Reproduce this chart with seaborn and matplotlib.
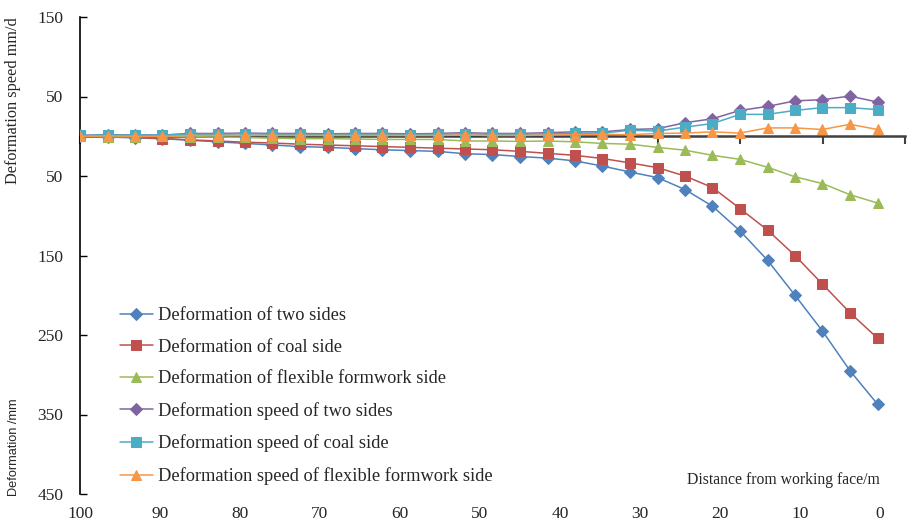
import matplotlib
matplotlib.use('Agg')
import matplotlib.pyplot as plt
import seaborn as sns
import numpy as np

# distance from working face (m) of each measuring point
distance = [100.00, 96.56, 93.13, 89.69, 86.25, 82.81, 79.38, 75.94, 72.50, 69.06,
            65.63, 62.19, 58.75, 55.31, 51.88, 48.44, 45.00, 41.56, 38.13, 34.69,
            31.25, 27.81, 24.38, 20.94, 17.50, 14.06, 10.63, 7.19, 3.75, 0.31]

# deformation (mm), plotted downward
def_two = [0, 1, 2, 3, 5, 7, 9, 11, 13, 14, 15.5, 17, 18, 19, 22, 23, 25.5, 27.5, 31, 37.5,
           45, 52, 67, 88, 119, 156, 200, 245, 295, 337]
def_coal = [0, 0.5, 1.5, 3, 4.5, 6, 7.5, 8.5, 10, 11, 12, 13, 14, 15, 16, 17, 19, 21.5, 24, 28,
            33.5, 39.5, 50, 64.5, 91, 118, 150, 186, 222, 254]
def_flex = [0, 0.5, 0.5, 0, 0.5, 1, 1.5, 2.5, 3, 3, 3.5, 4, 4, 4, 6, 6, 6.5, 6, 7, 9,
            10, 14, 17.5, 24, 29, 39, 51, 59.5, 73.5, 84]

# deformation speed (mm/d), plotted upward (negative)
spd_two = [-1, -2, -1.5, -1.5, -3.5, -3.5, -4, -3.5, -3.5, -3, -3.5, -3.5, -3, -3.5, -4.5, -3.5,
           -3.5, -4.5, -5.5, -5.5, -8.5, -9.5, -17, -22, -32.5, -37.5, -44.5, -46, -50.5, -43]
spd_coal = [-1, -1.5, -1.5, -1.5, -2.5, -2.5, -3, -2.5, -2.5, -2, -2.5, -2.5, -2, -2.5, -3, -2.5,
            -2.5, -3, -3.5, -4, -7.5, -6.5, -11.5, -16, -27.5, -27.5, -32.5, -36, -36, -33.5]
spd_flex = [0, -0.5, 0, 0, -1, -1, -1, -1, -1, -1, -1, -1, -1, -1, -1.5, -1, -1, -1.5, -2, -2.5,
            -2, -3.5, -4, -5.5, -4, -10.5, -10.5, -8.5, -15, -8.5]

labels = ['Deformation of two sides', 'Deformation of coal side',
          'Deformation of flexible formwork side', 'Deformation speed of two sides',
          'Deformation speed of coal side', 'Deformation speed of flexible formwork side']
series = [def_two, def_coal, def_flex, spd_two, spd_coal, spd_flex]
colors = ['#4F81BD', '#C0504D', '#9BBB59', '#8064A2', '#4BACC6', '#F79646']
markers = ['D', 's', '^', 'D', 's', '^']
msizes = [6, 6.5, 7.5, 6, 6.5, 7.5]

ytick_vals = [-150, -50, 50, 150, 250, 350, 450]
xlabel_vals = [100, 90, 80, 70, 60, 50, 40, 30, 20, 10, 0]

sns.set_style('white')
plt.rcParams['font.family'] = ['Liberation Serif', 'DejaVu Serif']

fig = plt.figure(figsize=(9.09, 5.25), dpi=100)
ax = fig.add_axes([80/909, 1-494/525, 825/909, 477/525])

for vals, lab, c, m, ms in zip(series, labels, colors, markers, msizes):
    sns.lineplot(x=distance, y=vals, ax=ax, color=c, marker=m, markersize=ms,
                 markeredgecolor=c, linewidth=1.1, label=lab, sort=False, zorder=3)

ax.set_xlim(100, -3.125)
ax.set_ylim(450, -150)

ax.set_yticks(ytick_vals)
ax.set_yticklabels([str(abs(v)) for v in ytick_vals], fontsize=12.5)
ax.tick_params(axis='y', direction='in', length=5, width=1, pad=12, color='black', left=True)

# horizontal axis line through zero with category ticks
ax.spines['bottom'].set_position(('data', 0))
ax.spines['bottom'].set_color('#404040')
ax.spines['bottom'].set_linewidth(1.8)
ax.spines['bottom'].set_zorder(2)
ax.set_xticks([100 - 10.3125 * k for k in range(11)])
ax.tick_params(axis='x', direction='out', length=6, width=1.5, color='#404040',
               labelbottom=False, bottom=True)
ax.spines['left'].set_color('black')
ax.spines['left'].set_linewidth(1.2)
ax.spines['top'].set_visible(False)
ax.spines['right'].set_visible(False)

sec = ax.secondary_xaxis('bottom')
sec.set_xticks(xlabel_vals)
sec.set_xticklabels([str(v) for v in xlabel_vals], fontsize=12.5)
sec.tick_params(length=0, pad=9)
sec.spines['bottom'].set_visible(False)

ax.set_xlabel('')
ax.set_ylabel('')
fig.text(13/909, 1-101/525, 'Deformation speed mm/d', rotation=90, ha='center', va='center', fontsize=11.7)
fig.text(14/909, 1-447/525, 'Deformation /mm', rotation=90, ha='center', va='center', fontsize=9.2,
         family=['Liberation Sans', 'DejaVu Sans'])
fig.text(880/909, 1-480/525, 'Distance from working face/m', ha='right', va='center', fontsize=11.3)

ax.legend(loc='upper left', bbox_to_anchor=(120/909, 1-307/525), bbox_transform=fig.transFigure,
          frameon=False, fontsize=13.2, borderpad=0, borderaxespad=0, labelspacing=0.8,
          handlelength=1.8, handletextpad=0.3)

fig.savefig('out.png', dpi=100)
